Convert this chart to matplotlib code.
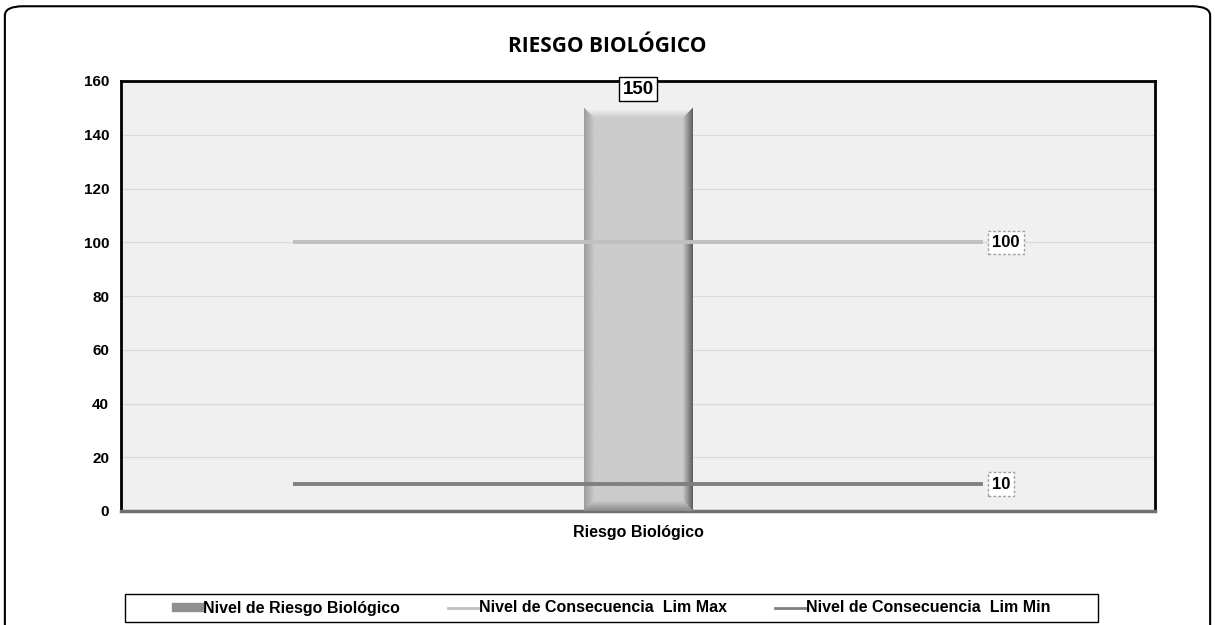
'''
riesgo biologico
-----------------------------------------------------------
bar of risk level with the two consequence limits.
'''
import numpy as np
import matplotlib
matplotlib.use('Agg')
import matplotlib.pyplot as plt
from matplotlib.patches import FancyBboxPatch, Rectangle
from matplotlib.lines import Line2D
from matplotlib.patches import Patch

# data ----------------------------------------------------
categories = ['Riesgo Biológico']
nivel_riesgo = [150]
lim_max = [100]
lim_min = [10]
series_names = ['Nivel de Riesgo Biológico',
                'Nivel de Consecuencia  Lim Max',
                'Nivel de Consecuencia  Lim Min']
y_ticks = [0, 20, 40, 60, 80, 100, 120, 140, 160]

plt.rcParams['font.family'] = ['Liberation Sans', 'DejaVu Sans']

# figure --------------------------------------------------
fig = plt.figure(figsize=(12.15, 6.25), dpi=100)
ax = fig.add_axes([0.0996, 0.1824, 0.8510, 0.688])
ax.set_facecolor('#f0f0f0')

x = np.arange(len(categories))
bar_w = 0.105

# bar with bevel shading:
bars = ax.bar(x, nivel_riesgo, width=bar_w, color='#c8c8c8', zorder=3)
ny, nx = 400, 110
yy, xx = np.mgrid[0:ny, 0:nx]
shade = np.full((ny, nx), 0.80)
bw = 10.0
left = np.clip(xx / bw, 0, 1)
right = np.clip((nx - 1 - xx) / bw, 0, 1)
top = np.clip(yy / bw, 0, 1)
bottom = np.clip((ny - 1 - yy) / bw, 0, 1)
shade = np.where(left < 1, 0.62 + 0.18 * left, shade)
shade = np.where(right < 1, 0.38 + 0.42 * right, shade)
shade = np.where((top < 1) & (left >= top) & (right >= top), 0.97 - 0.17 * top, shade)
shade = np.where((bottom < 1) & (left >= bottom) & (right >= bottom), 0.55 + 0.25 * bottom, shade)
img = np.dstack([shade, shade, shade])
for b in bars:
    x0 = b.get_x()
    im = ax.imshow(img, extent=[x0, x0 + b.get_width(), 0, b.get_height()],
                   aspect='auto', origin='upper', zorder=4, interpolation='bilinear')
    im.set_clip_path(b)

# limit lines:
line_x = [x[0] - 1 / 3, x[0] + 1 / 3]
ax.plot(line_x, [lim_max[0]] * 2, color='#c0c0c0', lw=2.8, zorder=5,
        solid_capstyle='butt')
ax.plot(line_x, [lim_min[0]] * 2, color='#808080', lw=2.8, zorder=5,
        solid_capstyle='butt')

# data labels:
ax.text(x[0], nivel_riesgo[0] + 7, str(nivel_riesgo[0]), ha='center', va='center',
        fontsize=13.5, fontweight='bold', zorder=6,
        bbox=dict(boxstyle='square,pad=0.2', fc='white', ec='black', lw=1))
for val in (lim_max[0], lim_min[0]):
    ax.text(line_x[1] + 0.009, val, str(val), ha='left', va='center',
            fontsize=12, fontweight='bold', zorder=6,
            bbox=dict(boxstyle='square,pad=0.25', fc='white', ec='#a0a0a0',
                      lw=1, ls=(0, (2, 1.5))))

# axes ----------------------------------------------------
ax.set_xlim(-0.5, 0.5)
ax.set_ylim(0, 160)
ax.set_yticks(y_ticks)
ax.set_xticks(x)
ax.set_xticklabels(categories)
ax.grid(axis='y', color='#d9d9d9', lw=0.9, zorder=0)
ax.set_axisbelow(True)
ax.tick_params(axis='y', length=0, labelsize=11, pad=8.5)
ax.tick_params(axis='x', length=0, labelsize=11.5, pad=10)
for tick in ax.get_xticklabels() + ax.get_yticklabels():
    tick.set_fontweight('bold')
for side in ('left', 'top', 'right'):
    ax.spines[side].set_color('black')
    ax.spines[side].set_linewidth(2)
ax.spines['bottom'].set_color('#707070')
ax.spines['bottom'].set_linewidth(2.5)

# title:
fig.text(0.4995, 0.925, 'RIESGO BIOLÓGICO', ha='center', va='center',
         fontsize=15, fontweight='bold', family=['Open Sans', 'DejaVu Sans'])

# legend:
handles = [Patch(facecolor='#909090', edgecolor='#909090'),
           Line2D([0], [0], color='#c0c0c0', lw=2),
           Line2D([0], [0], color='#808080', lw=2)]
leg = fig.legend(handles, series_names, ncol=3, loc='center',
                 bbox_to_anchor=(0.5033, 0.0272), frameon=False,
                 prop={'weight': 'bold', 'size': 11.5}, handlelength=1.9,
                 handleheight=0.45, handletextpad=0.05, columnspacing=3.0,
                 borderpad=0.3, borderaxespad=0)
leg_box = Rectangle((125 / 1215, 3 / 625), 973 / 1215, 28 / 625,
                    transform=fig.transFigure, fc='white', ec='black', lw=1,
                    zorder=0)
fig.patches.append(leg_box)

# outer rounded frame:
frame = FancyBboxPatch((0.004, -0.2), 0.992, 1.19, boxstyle='round,pad=0,rounding_size=0.015',
                       transform=fig.transFigure, fc='none', ec='black', lw=1.5,
                       clip_on=False)
fig.patches.append(frame)

plt.savefig('out.png', dpi=100)
